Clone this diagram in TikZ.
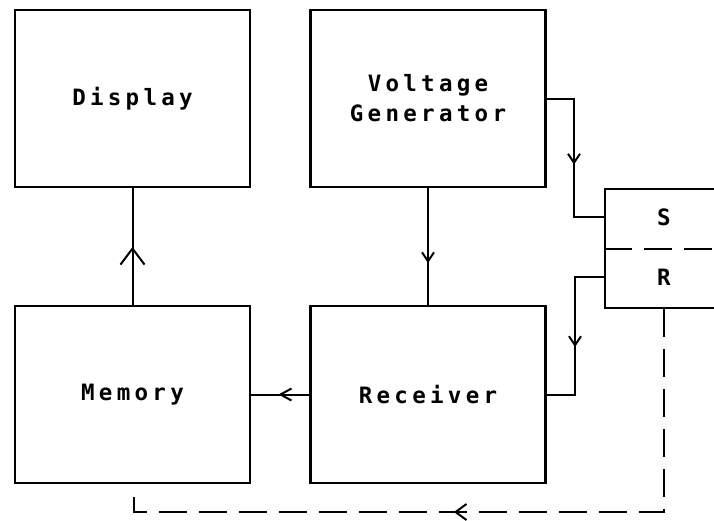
\documentclass[tikz,border=0pt]{standalone}
\usepackage{fontspec}
\newfontfamily\plotfont{DejaVu Sans Mono}[LetterSpace=19]
\usetikzlibrary{arrows.meta,decorations.markings}
\begin{document}
\begin{tikzpicture}[x=1pt,y=-1pt,
  txt/.style={font=\plotfont\bfseries\fontsize{22.5}{30}\selectfont, align=center},
  box/.style={draw, line width=2.2pt, minimum width=235pt, minimum height=177pt, inner sep=0pt, txt},
  conn/.style={line width=2pt},
  dsh/.style={line width=2pt, dash pattern=on 28pt off 12pt},
  midtip/.style n args={3}{postaction={decorate}, decoration={markings,
     mark=at position #1 with {\arrow[line width=2pt]{Straight Barb[length=#2,width=#3]}}}}
]
\useasboundingbox (0,0) rectangle (714,521);
\clip (0,0) rectangle (714,521);

\node[box] (disp) at (132.5,98.5) {Display};
\node[box] (vg)   at (428,98.5) {Voltage\\Generator};
\node[box] (mem)  at (132.5,394.5) {Memory};
\node[box] (recv) at (428,394.5) {Receiver};

\node[draw, line width=2.2pt, minimum width=140pt, minimum height=119pt, inner sep=0pt, anchor=north west] (srbox) at (604,188) {};
\draw[dsh] (srbox.west) -- (srbox.east);
\node[txt] (S) at (664,217) {S};
\node[txt] (R) at (664,277) {R};

\coordinate (s1) at (574,99);
\coordinate (tR) at (575,395);
\coordinate (dCorner) at (134,512);
\coordinate (dEnd) at (134,495);

% Voltage generator -> S
\draw[conn, midtip={93pt}{9pt}{12pt}] (vg.east |- s1) -- (s1) |- (srbox.west |- S);
% R -> Receiver
\draw[conn, midtip={99pt}{9pt}{12pt}] (srbox.west |- R) -| (tR) -- (recv.east |- tR);
% Voltage generator -> Receiver
\draw[conn, midtip={75pt}{9pt}{12pt}] (vg.south) -- (recv.north);
% Memory -> Display
\draw[conn, midtip={58pt}{16pt}{24pt}] (mem.north) -- (disp.south);
% Receiver -> Memory
\draw[conn, midtip={31pt}{11pt}{12pt}] (recv.west) -- (mem.east);
% R -> dashed feedback
\draw[dsh, midtip={413pt}{11pt}{16pt}] (srbox.south -| R) |- (dCorner) -- (dEnd);
\end{tikzpicture}
\end{document}
